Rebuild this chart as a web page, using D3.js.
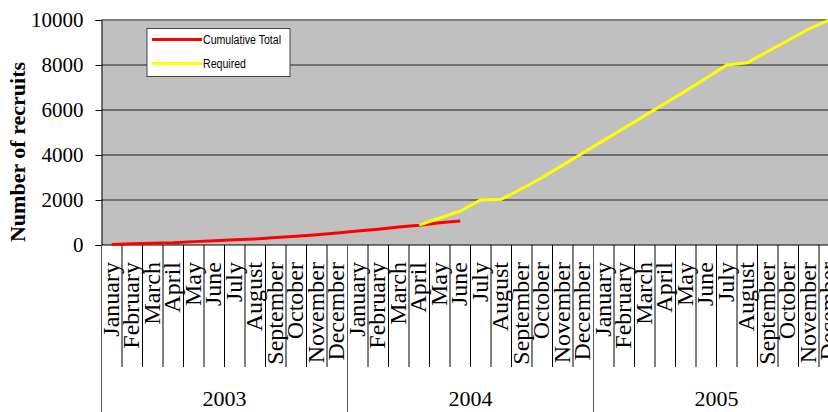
<!DOCTYPE html>
<html>
<head>
<meta charset="utf-8">
<script src="https://cdn.jsdelivr.net/npm/d3@7"></script>
<style>
  body { margin: 0; background: #fff; }
  svg { display: block; }
</style>
</head>
<body>
<svg id="chart"></svg>
<script>
// chart data
const years = ["2003", "2004", "2005"];
const months = ["January", "February", "March", "April", "May", "June", "July",
  "August", "September", "October", "November", "December"];
const cumulativeTotal = [20, 60, 80, 100, 150, 190, 230, 270, 330, 390, 460, 530,
  620, 700, 800, 880, 990, 1070];
const requiredStart = 15; // April 2004
const required = [880, 1200, 1510, 2000, 2030, 2500, 3000, 3550, 4100, 4650, 5200,
  5750, 6300, 6850, 7420, 8000, 8100, 8600, 9100, 9600, 10000];
const yTicks = [0, 2000, 4000, 6000, 8000, 10000];

const width = 828;
const height = 412;
const svg = d3.select("#chart").attr("width", width).attr("height", height);

const categories = [];
years.forEach(y => months.forEach(m => categories.push(y + " " + m)));

const plotLeft = 101.5, plotTop = 20, plotBottom = 245;
const x = d3.scaleBand()
  .domain(d3.range(categories.length))
  .range([plotLeft, plotLeft + 20.5 * categories.length])
  .padding(0);
const y = d3.scaleLinear().domain([0, 10000]).range([plotBottom, plotTop]);

// plot area
svg.append("rect")
  .attr("x", plotLeft).attr("y", plotTop)
  .attr("width", x.range()[1] - plotLeft).attr("height", plotBottom - plotTop)
  .attr("fill", "#c0c0c0");

// gridlines
svg.append("g").selectAll("line")
  .data(yTicks.filter(d => d > 0))
  .join("line")
  .attr("x1", plotLeft).attr("x2", width)
  .attr("y1", d => y(d)).attr("y2", d => y(d))
  .attr("stroke", d => d === 10000 ? "#808080" : "#222")
  .attr("stroke-width", d => d === 10000 ? 2 : 1);

// y axis
const yAxis = svg.append("g")
  .attr("transform", `translate(${plotLeft},0)`)
  .call(d3.axisLeft(y).tickValues(yTicks).tickFormat(d3.format("d")).tickSize(6).tickPadding(12));
yAxis.select(".domain").attr("stroke", "#000");
yAxis.selectAll("line").attr("stroke", "#000");
yAxis.selectAll("text")
  .attr("font-family", "Liberation Serif, Times New Roman, serif")
  .attr("font-size", 21)
  .attr("fill", "#000");

svg.append("text")
  .attr("transform", "translate(25,152) rotate(-90)")
  .attr("text-anchor", "middle")
  .attr("font-family", "Liberation Serif, Times New Roman, serif")
  .attr("font-weight", "bold")
  .attr("font-size", 22)
  .text("Number of recruits");

// x axis line
svg.append("line")
  .attr("x1", plotLeft).attr("x2", width)
  .attr("y1", plotBottom).attr("y2", plotBottom)
  .attr("stroke", "#000");

// month separators, year separators
svg.append("g").selectAll("line")
  .data(d3.range(categories.length + 1))
  .join("line")
  .attr("x1", d => plotLeft + d * x.step())
  .attr("x2", d => plotLeft + d * x.step())
  .attr("y1", plotBottom)
  .attr("y2", d => d % 12 === 0 ? height : 367)
  .attr("stroke", d => d % 12 === 0 ? "#555" : "#000")
  .attr("stroke-width", 1);

// month labels
svg.append("g").selectAll("text")
  .data(categories)
  .join("text")
  .attr("transform", (d, i) => `translate(${x(i) + x.bandwidth() / 2 + 7},262) rotate(-90)`)
  .attr("text-anchor", "end")
  .attr("font-family", "Liberation Serif, Times New Roman, serif")
  .attr("font-size", 24)
  .text(d => d.split(" ")[1]);

// year labels
svg.append("g").selectAll("text")
  .data(years)
  .join("text")
  .attr("x", (d, i) => plotLeft + (i * 12 + 6) * x.step())
  .attr("y", 406)
  .attr("text-anchor", "middle")
  .attr("font-family", "Liberation Serif, Times New Roman, serif")
  .attr("font-size", 22)
  .text(d => d);

// lines
const line = d3.line()
  .x(d => x(d.i) + x.bandwidth() / 2)
  .y(d => y(d.v));

svg.append("path")
  .datum(cumulativeTotal.map((v, i) => ({ i, v })))
  .attr("d", line)
  .attr("fill", "none")
  .attr("stroke", "#ff0000")
  .attr("stroke-width", 3);

svg.append("path")
  .datum(required.map((v, i) => ({ i: i + requiredStart, v })))
  .attr("d", line)
  .attr("fill", "none")
  .attr("stroke", "#ffff00")
  .attr("stroke-width", 3);

// legend
const legend = svg.append("g");
legend.append("rect")
  .attr("x", 147).attr("y", 28.5)
  .attr("width", 143).attr("height", 48)
  .attr("fill", "#fff")
  .attr("stroke", "#444");
const legendItems = [
  { name: "Cumulative Total", color: "#ff0000", w: 78 },
  { name: "Required", color: "#ffff00", w: 43 }
];
legendItems.forEach((d, i) => {
  const ly = 39.5 + i * 24;
  legend.append("line")
    .attr("x1", 152).attr("x2", 202)
    .attr("y1", ly).attr("y2", ly)
    .attr("stroke", d.color)
    .attr("stroke-width", 3);
  legend.append("text")
    .attr("x", 203).attr("y", ly + 4.5)
    .attr("font-family", "Liberation Sans, Arial, sans-serif")
    .attr("font-size", 12.5)
    .attr("textLength", d.w)
    .attr("lengthAdjust", "spacingAndGlyphs")
    .text(d.name);
});
</script>
</body>
</html>
